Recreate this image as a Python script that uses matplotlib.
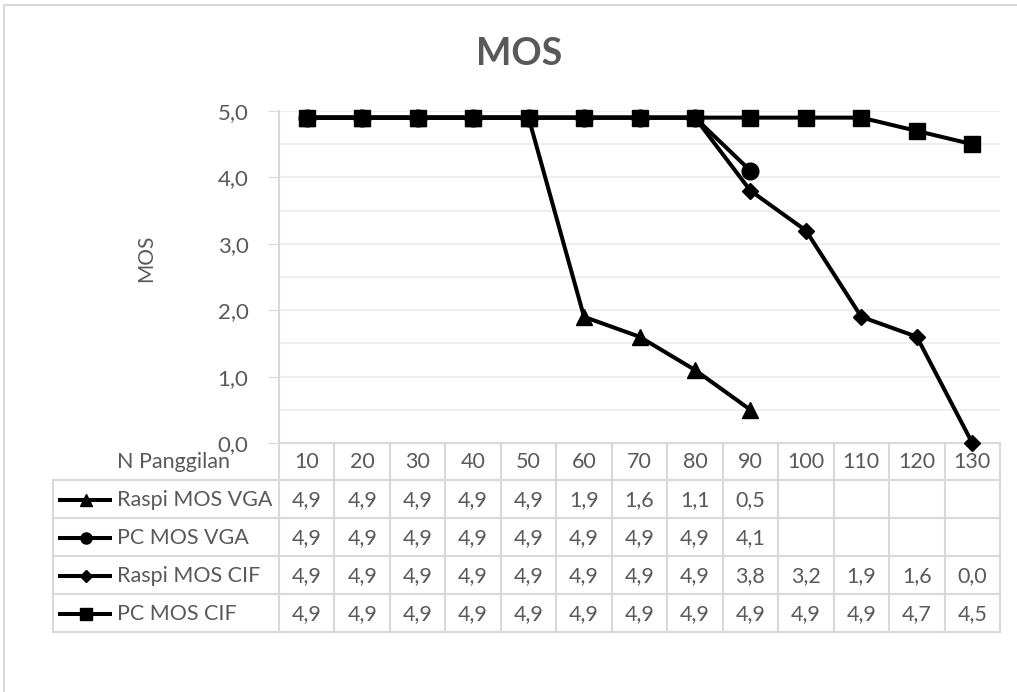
import numpy as np
import matplotlib
matplotlib.use("Agg")
import matplotlib.pyplot as plt
from matplotlib.transforms import blended_transform_factory
from matplotlib.lines import Line2D

# Data
n_panggilan = [10, 20, 30, 40, 50, 60, 70, 80, 90, 100, 110, 120, 130]
raspi_vga = [4.9, 4.9, 4.9, 4.9, 4.9, 1.9, 1.6, 1.1, 0.5, np.nan, np.nan, np.nan, np.nan]
pc_vga = [4.9, 4.9, 4.9, 4.9, 4.9, 4.9, 4.9, 4.9, 4.1, np.nan, np.nan, np.nan, np.nan]
raspi_cif = [4.9, 4.9, 4.9, 4.9, 4.9, 4.9, 4.9, 4.9, 3.8, 3.2, 1.9, 1.6, 0.0]
pc_cif = [4.9, 4.9, 4.9, 4.9, 4.9, 4.9, 4.9, 4.9, 4.9, 4.9, 4.9, 4.7, 4.5]

series_names = ["Raspi MOS VGA", "PC MOS VGA", "Raspi MOS CIF", "PC MOS CIF"]
series_vals = [raspi_vga, pc_vga, raspi_cif, pc_cif]
series_mark = ["^", "o", "D", "s"]
mark_size = [12, 12, 8.5, 12]

plt.rcParams['font.family'] = ['Lato', 'DejaVu Sans']
txt = '#595959'
grid_c = '#EBEBEB'
tab_c = '#D9D9D9'
fs = 15.5

W, H = 1017, 692
fig = plt.figure(figsize=(W / 100, H / 100), dpi=100)


def fx(px):
    return px / W


def fy(py):
    return 1 - py / H


# axes area in pixels
L, R, T, B = 279, 1000, 111, 443
ax = fig.add_axes([fx(L), fy(B), fx(R) - fx(L), fy(T) - fy(B)])

x = np.arange(1, len(n_panggilan) + 1)
for vals, m, ms in zip(series_vals, series_mark, mark_size):
    ax.plot(x, vals, color='black', lw=2.9, marker=m, ms=ms, zorder=3, clip_on=False)

ax.set_xlim(0.5, len(n_panggilan) + 0.5)
ax.set_ylim(0, 5)
ax.set_yticks(np.arange(0, 5.01, 1.0))
ax.set_yticklabels([f"{v:.1f}".replace('.', ',') for v in np.arange(0, 5.01, 1.0)])
ax.set_yticks(np.arange(0.5, 5.0, 1.0), minor=True)
ax.grid(axis='y', which='both', color=grid_c, lw=1.2)
ax.set_axisbelow(True)
ax.tick_params(axis='y', which='major', length=8, color=tab_c, labelsize=16, labelcolor=txt, pad=14)
ax.tick_params(axis='y', which='minor', length=0)
ax.tick_params(axis='x', which='both', length=0, labelbottom=False)
for s in ['top', 'right']:
    ax.spines[s].set_visible(False)
ax.spines['left'].set_color(tab_c)
ax.spines['bottom'].set_color(tab_c)
ax.spines['left'].set_linewidth(1.5)
ax.spines['bottom'].set_linewidth(1.5)

ax.set_ylabel('MOS', fontsize=15, color=txt, labelpad=0)
ax.yaxis.set_label_coords((156 - L) / (R - L), (B - 258) / (B - T))

fig.suptitle('MOS', x=fx(519), y=fy(54), va='center', fontsize=27,
             fontweight='bold', color=txt)

# data table under the chart (columns follow the x scale)
tr = blended_transform_factory(ax.transData, fig.transFigure)
rows_y = [443, 480, 518, 556, 594, 632]
ncol = len(n_panggilan)
x_left_data = 0.5
x_right_data = ncol + 0.5
tab_left = 52.7

for i, yy in enumerate(rows_y):
    ax.add_line(Line2D([x_left_data, x_right_data], [fy(yy), fy(yy)], transform=tr,
                       color=tab_c, lw=1.5, clip_on=False))
    if i >= 1:
        fig.add_artist(Line2D([fx(tab_left), fx(L)], [fy(yy), fy(yy)],
                              color=tab_c, lw=1.5))
for j in range(ncol + 1):
    xx = j + 0.5
    ax.add_line(Line2D([xx, xx], [fy(rows_y[0]), fy(rows_y[-1])], transform=tr,
                       color=tab_c, lw=1.5, clip_on=False))
fig.add_artist(Line2D([fx(tab_left), fx(tab_left)], [fy(rows_y[1]), fy(rows_y[-1])],
                      color=tab_c, lw=1.5))

# header row
hy = (rows_y[0] + rows_y[1]) / 2 + 1
fig.text(fx(117), fy(hy), 'N Panggilan', fontsize=fs, color=txt, va='center', ha='left')
for j, v in enumerate(n_panggilan):
    ax.text(j + 1, fy(hy), str(v), transform=tr, fontsize=fs, color=txt,
            ha='center', va='center')

# series rows
for r, (name, vals, m) in enumerate(zip(series_names, series_vals, series_mark)):
    cy = (rows_y[r + 1] + rows_y[r + 2]) / 2 + 1
    fig.add_artist(Line2D([fx(60), fx(110)], [fy(cy), fy(cy)], color='black', lw=2.9))
    fig.add_artist(Line2D([fx(86)], [fy(cy)], color='black', marker=m,
                          ms=8 if m != 'D' else 6, lw=0))
    fig.text(fx(117), fy(cy), name, fontsize=fs, color=txt, va='center', ha='left')
    for j, v in enumerate(vals):
        if not np.isnan(v):
            ax.text(j + 1, fy(cy), f"{v:.1f}".replace('.', ','), transform=tr,
                    fontsize=fs, color=txt, ha='center', va='center')

# chart border
fig.add_artist(Line2D([fx(4), fx(4)], [fy(5), 0], color=tab_c, lw=1.5))
fig.add_artist(Line2D([fx(4), 1], [fy(5), fy(5)], color=tab_c, lw=1.5))

fig.savefig('out.png', dpi=100)
